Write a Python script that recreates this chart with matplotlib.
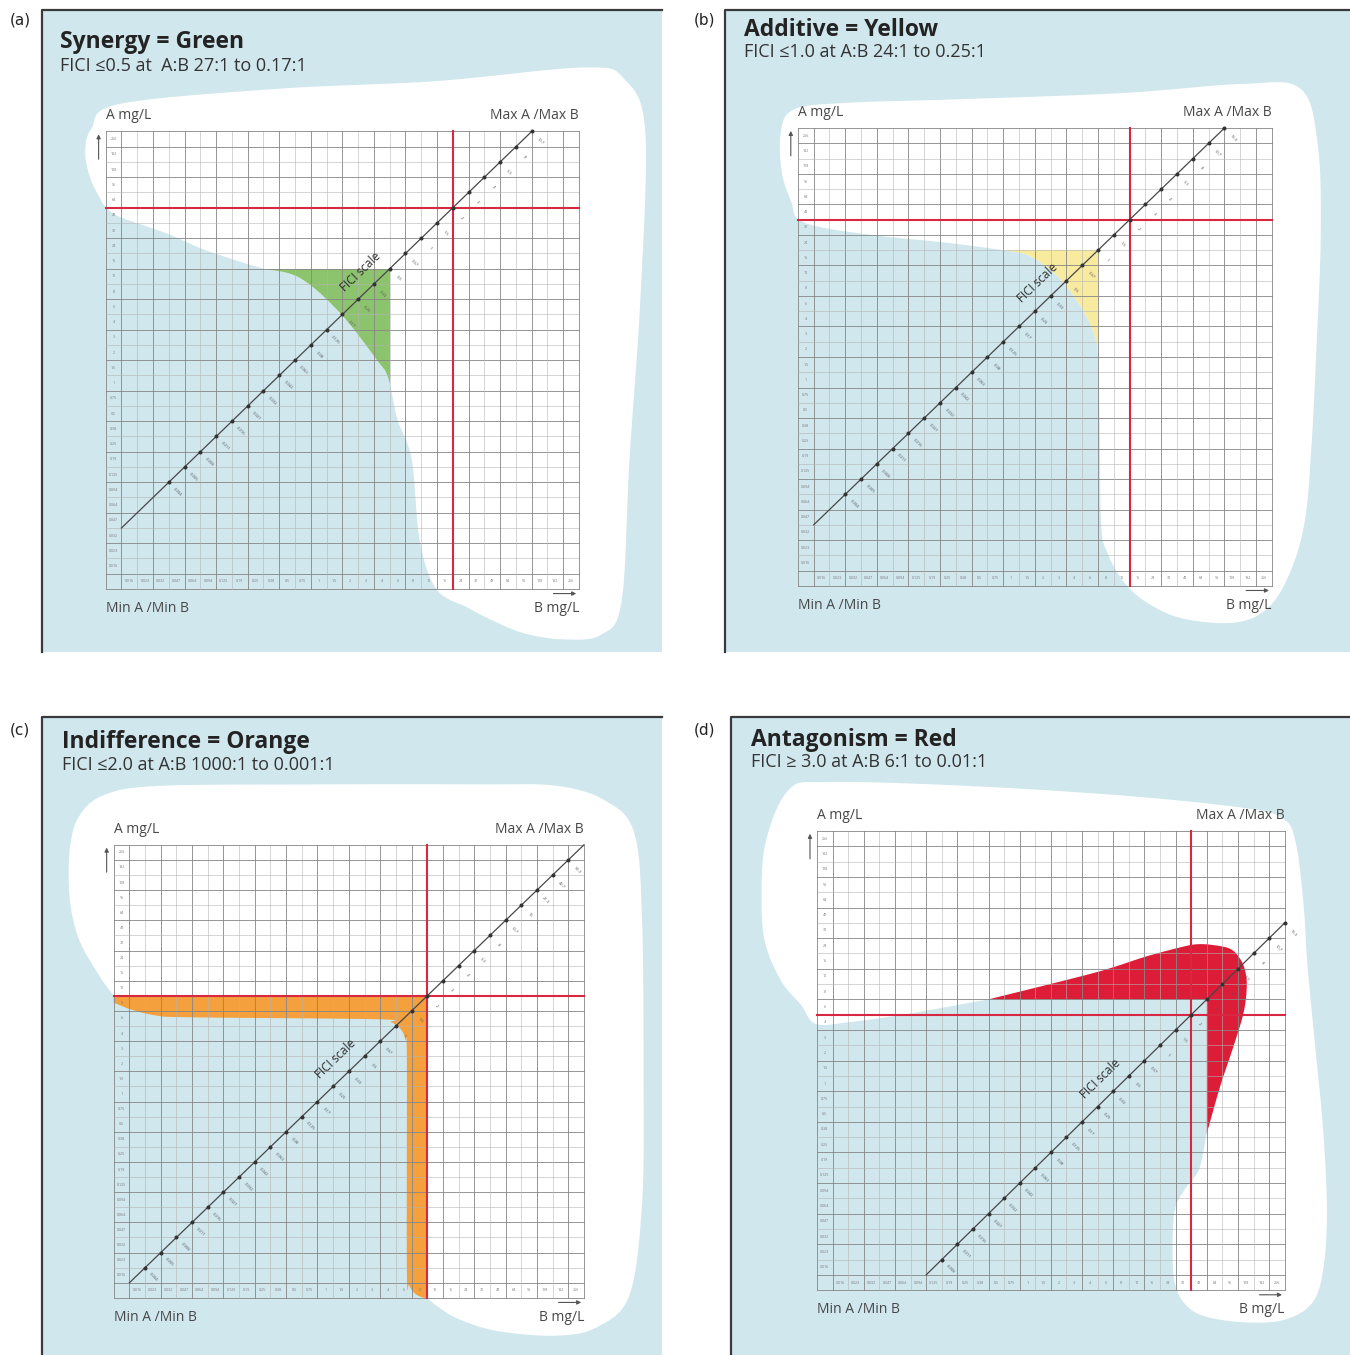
import numpy as np
import matplotlib.pyplot as plt
from matplotlib.patches import Polygon, Rectangle

plt.rcParams['font.family'] = ['Open Sans', 'DejaVu Sans']

W, H = 1350, 1355

# concentration steps (mg/L) used on both axes
conc_labels = ["0.016", "0.023", "0.032", "0.047", "0.064", "0.094", "0.125",
               "0.19", "0.25", "0.38", "0.5", "0.75", "1", "1.5", "2", "3",
               "4", "6", "8", "12", "16", "24", "32", "48", "64", "96", "128",
               "192", "256"]

# FICI values along the diagonal, lowest first
fici_low = ["0.004", "0.005", "0.008", "0.011", "0.016", "0.021", "0.032",
            "0.042", "0.063", "0.08", "0.125", "0.17", "0.25", "0.33", "0.5",
            "0.67", "1", "1.5", "2"]
fici_a = fici_low + ["3", "4", "5.3", "8", "10.7"]
fici_b = fici_low + ["3", "4", "5.3", "8", "10.7", "13.3"]
fici_c = fici_low + ["3", "4", "5.3", "8", "10.7", "16", "21.3", "42.7", "53.3"]
fici_d = fici_low[2:] + ["3", "4", "5.3", "8", "10.7", "13.3"]

# MIC cross-hair (cell boundaries: B, A) and diagonal offset (A = B + k)
mic_a, mic_b, mic_c, mic_d = (21, 24), (20, 23), (19, 19), (23, 17)
diag_k = {"a": 3, "b": 3, "c": 0, "d": -6}
diag_x = {"a": (0, 26), "b": (0, 26), "c": (0, 29), "d": (6, 29)}
first_marker = {"a": 3, "b": 2, "c": 1, "d": 7}

titles = {
    "a": ("Synergy = Green", "FICI \u22640.5 at  A:B 27:1 to 0.17:1"),
    "b": ("Additive = Yellow", "FICI \u22641.0 at A:B 24:1 to 0.25:1"),
    "c": ("Indifference = Orange", "FICI \u22642.0 at A:B 1000:1 to 0.001:1"),
    "d": ("Antagonism = Red", "FICI \u2265 3.0 at A:B 6:1 to 0.01:1"),
}

# outline of the white area (grid units); a doubled point marks a sharp corner
blob_a = [(-1.0, 24.05), (-0.1, 23.4), (2.9, 22.3), (5.0, 21.35), (7.1, 20.6),
          (8.85, 20.05), (11.3, 19.4), (13.85, 17.1), (16.2, 14.0),
          (16.9, 12.85), (17.5, 10.1), (18.4, 7.5), (18.9, 2.2), (19.95, -1.0),
          (21.9, -2.2), (23.5, -3.05), (25.5, -3.9), (28.0, -4.3),
          (30.4, -4.0), (31.7, -1.8), (32.2, 7.5), (32.9, 18.2), (33.2, 29.0),
          (31.9, 32.4), (29.4, 33.2), (19.9, 32.3), (9.9, 31.8),
          (-0.15, 30.8), (-1.9, 29.2), (-2.3, 27.7), (-2.0, 26.0),
          (-1.4, 24.7)]
blob_b = [(-1.0, 23.05), (0.7, 22.45), (4.5, 21.9), (8.3, 21.5), (12.0, 21.0),
          (13.5, 20.7), (14.75, 19.9), (15.8, 18.9), (16.65, 17.7),
          (17.4, 16.4), (17.8, 15.3), (18.0, 14.0), (18.1, 9.8), (18.2, 3.0),
          (18.6, 1.15), (19.6, -0.7), (21.1, -2.1), (23.4, -3.15),
          (26.7, -3.4), (28.8, -2.4), (30.2, 0.0), (31.1, 3.3), (31.5, 8.0),
          (31.8, 14.0), (32.1, 22.0), (31.9, 28.0), (30.8, 31.6),
          (27.2, 31.9), (19.6, 31.3), (9.5, 30.9), (2.0, 30.65),
          (-1.3, 30.2), (-2.1, 28.6), (-2.0, 26.0), (-1.4, 24.1)]
blob_c = [(-1.0, 19.0), (-1.0, 19.0), (19.0, 19.0), (19.0, 19.0),
          (19.0, -1.0), (19.0, -1.0), (19.7, -1.6), (21.0, -2.4),
          (23.5, -3.2), (27.3, -3.5), (29.9, -2.9), (31.9, -0.8),
          (32.7, 5.2), (32.8, 13.3), (32.7, 24.1), (32.2, 29.8),
          (30.4, 31.9), (27.3, 32.9), (22.3, 33.0), (12.1, 33.0),
          (1.9, 32.9), (-1.6, 32.3), (-3.2, 30.9), (-3.8, 28.7),
          (-3.8, 25.4), (-3.2, 22.7), (-1.9, 20.3)]
blob_d = [(10.0, 18.0), (10.0, 18.0), (24.0, 18.0), (24.0, 18.0),
          (24.0, 9.25), (24.0, 9.25), (23.5, 6.9), (22.6, 5.6),
          (21.95, 4.25), (21.8, 1.6), (21.95, -0.55), (22.6, -1.9),
          (23.85, -2.7), (26.4, -3.1), (28.9, -2.95), (30.7, -1.9),
          (31.45, 0.25), (31.7, 4.2), (31.45, 9.6), (30.95, 14.9),
          (30.45, 20.25), (30.2, 24.25), (29.7, 28.25), (28.9, 29.8),
          (26.4, 30.5), (18.8, 31.3), (8.6, 31.95), (-0.25, 32.2),
          (-2.8, 31.7), (-4.3, 28.25), (-4.55, 24.25), (-4.3, 21.6),
          (-3.3, 19.2), (-2.0, 17.6), (-1.1, 16.4), (1.0, 16.5),
          (4.8, 17.05)]

# interaction zones (grid units)
green_box = (5, 12, 17, 20)      # x0, y0, x1 (FICI 0.5 column), y1
yellow_box = (10, 12, 18, 21)    # corner at FICI 1
orange_band = [(-1.0, 19.0), (-1.0, 19.0), (19.0, 19.0), (19.0, 19.0),
               (19.0, -1.0), (19.0, -1.0), (18.7, -0.97), (18.2, -0.7),
               (17.85, -0.15), (17.7, 0.85), (17.7, 14.75), (17.6, 16.1),
               (17.3, 16.8), (16.7, 17.25), (15.8, 17.45), (3.9, 17.58),
               (1.7, 17.7), (0.1, 18.1), (-1.0, 18.55), (-1.0, 18.55)]
red_wedge = [(10.0, 18.0), (10.0, 18.0), (24.0, 18.0), (24.0, 18.0),
             (24.0, 9.25), (24.0, 9.25), (24.85, 12.3), (25.7, 14.9),
             (26.35, 17.1), (26.56, 18.8), (26.45, 19.9), (26.1, 20.7),
             (25.5, 21.3), (24.4, 21.55), (23.35, 21.6), (22.3, 21.4),
             (20.1, 20.8), (18.0, 20.1), (15.9, 19.5)]

# pixel layout: panel rectangle and grid rectangle (x0, y0, x1, y1)
layout = {
    "a": dict(rect=(42, 10, 662, 652), grid=(105.7, 131.5, 579, 589),
              title=(60, 47.5, 71), tag=(10, 20)),
    "b": dict(rect=(725, 10, 1350, 652), grid=(797.9, 128.1, 1271.8, 585.9),
              title=(744, 35.5, 57), tag=(694, 20)),
    "c": dict(rect=(42, 717, 662, 1355), grid=(113.7, 844.8, 584, 1297.9),
              title=(62, 748.5, 770), tag=(10, 730)),
    "d": dict(rect=(731, 717, 1350, 1355), grid=(817, 831, 1284.8, 1290.2),
              title=(751, 745.5, 767), tag=(694, 730)),
}

BG = "#d0e7ee"
GRID_MINOR = "#b4b4b4"
GRID_MAJOR = "#858585"
RED_LINE = "#d62840"


def smooth_closed(pts, n=14):
    # closed Hermite spline; doubled points become corners
    pts = [tuple(p) for p in pts]
    P, corner = [], []
    for i, p in enumerate(pts):
        if P and p == P[-1]:
            corner[-1] = True
            continue
        P.append(p)
        corner.append(False)
    if P[0] == P[-1]:
        P.pop()
        corner[0] = corner[0] or corner.pop()
    P = np.asarray(P, float)
    m = len(P)
    t = np.linspace(0, 1, n, endpoint=False)[:, None]
    h00 = 2 * t ** 3 - 3 * t ** 2 + 1
    h10 = t ** 3 - 2 * t ** 2 + t
    h01 = -2 * t ** 3 + 3 * t ** 2
    h11 = t ** 3 - t ** 2
    out = []
    for i in range(m):
        j = (i + 1) % m
        p1, p2 = P[i], P[j]
        m1 = (p2 - p1) if corner[i] else (p2 - P[i - 1]) / 2
        m2 = (p2 - p1) if corner[j] else (P[(j + 1) % m] - p1) / 2
        out.append(h00 * p1 + h10 * m1 + h01 * p2 + h11 * m2)
    return np.vstack(out)


def panel_axes(fig, key):
    px0, py0, px1, py1 = layout[key]["rect"]
    gx0, gy0, gx1, gy1 = layout[key]["grid"]
    cw = (gx1 - gx0) / 30
    ch = (gy1 - gy0) / 30
    ax = fig.add_axes([px0 / W, 1 - py1 / H, (px1 - px0) / W, (py1 - py0) / H])
    ax.set_xlim(-1 - (gx0 - px0) / cw, -1 + (px1 - gx0) / cw)
    ax.set_ylim(-1 - (py1 - gy1) / ch, -1 + (gy1 - py0) / ch)
    ax.set_facecolor(BG)
    ax.set_xticks([])
    ax.set_yticks([])
    for s in ax.spines.values():
        s.set_visible(False)
    # dark frame on the left and top edge only
    ax.plot([0, 0, 1], [0, 1, 1], transform=ax.transAxes, color="#3a3a3a",
            lw=1.6, clip_on=False, zorder=10)
    ax.cw, ax.ch = cw, ch
    return ax


def draw_grid(ax):
    for v in range(-1, 30):
        major = (v % 2 == 0) or v in (-1, 29)
        c = GRID_MAJOR if major else GRID_MINOR
        lw = 0.6 if major else 0.4
        ax.plot([v, v], [-1, 29], color=c, lw=lw, zorder=3)
        ax.plot([-1, 29], [v, v], color=c, lw=lw, zorder=3)
    for i, lab in enumerate(conc_labels):
        ax.text(i + 0.5, -0.5, lab, fontsize=2.6, color="#7a7a7a",
                ha="center", va="center", zorder=6)
        ax.text(-0.5, i + 0.5, lab, fontsize=2.6, color="#7a7a7a",
                ha="center", va="center", zorder=6)
    tc = "#474747"
    ax.text(-1, 29.8, "A mg/L", fontsize=10, color=tc, ha="left", va="baseline")
    ax.text(29, 29.8, "Max A /Max B", fontsize=10, color=tc, ha="right",
            va="baseline")
    ax.text(-1, -2.5, "Min A /Min B", fontsize=10, color=tc, ha="left",
            va="baseline")
    ax.text(29, -2.5, "B mg/L", fontsize=10, color=tc, ha="right",
            va="baseline")
    arrow = dict(arrowstyle="-|>", color="#555555", lw=0.8, mutation_scale=6)
    ax.annotate("", xy=(-1.45, 29.0), xytext=(-1.45, 27.0), arrowprops=arrow)
    ax.annotate("", xy=(29.0, -1.3), xytext=(27.2, -1.3), arrowprops=arrow)


def draw_scale(ax, key, labels):
    k = diag_k[key]
    x0, x1 = diag_x[key]
    ax.plot([x0, x1], [x0 + k, x1 + k], color="#474747", lw=0.9, zorder=7)
    xs = np.arange(first_marker[key], first_marker[key] + len(labels))
    ax.plot(xs, xs + k, "o", ms=1.9, color="#333333", zorder=8)
    for x, lab in zip(xs, labels):
        ax.text(x + 0.55, x + k - 0.65, lab, fontsize=3.0, color="#555555",
                rotation=-45, ha="center", va="center", zorder=8)
    xm = xs[labels.index("0.33")]
    ang = np.degrees(np.arctan2(ax.ch, ax.cw))
    ax.text(xm - 0.82, xm + k + 0.82, "FICI scale", fontsize=8.5,
            color="#2e2e2e", rotation=ang, ha="center", va="center", zorder=8)


def draw_mic(ax, mic):
    bx, ay = mic
    ax.plot([bx, bx], [-1, 29], color=RED_LINE, lw=1.5, zorder=5)
    ax.plot([-1, 29], [ay, ay], color=RED_LINE, lw=1.5, zorder=5)


fig = plt.figure(figsize=(W / 100, H / 100), dpi=100)
fig.patch.set_facecolor("white")

blobs = {"a": blob_a, "b": blob_b, "c": blob_c, "d": blob_d}
mics = {"a": mic_a, "b": mic_b, "c": mic_c, "d": mic_d}
ficis = {"a": fici_a, "b": fici_b, "c": fici_c, "d": fici_d}

for key in "abcd":
    ax = panel_axes(fig, key)
    blob = Polygon(smooth_closed(blobs[key]), closed=True, fc="white",
                   ec="none", zorder=1)
    ax.add_patch(blob)

    if key == "a":
        x0, y0, x1, y1 = green_box
        zone = Rectangle((x0, y0), x1 - x0, y1 - y0, fc="#8cc36d", ec="none",
                         zorder=2)
        ax.add_patch(zone)
        zone.set_clip_path(blob)
    elif key == "b":
        x0, y0, x1, y1 = yellow_box
        zone = Rectangle((x0, y0), x1 - x0, y1 - y0, fc="#f8ea9e", ec="none",
                         zorder=2)
        ax.add_patch(zone)
        zone.set_clip_path(blob)
    elif key == "c":
        ax.add_patch(Polygon(smooth_closed(orange_band), closed=True,
                             fc="#f4a03c", ec="none", zorder=2))
    else:
        ax.add_patch(Polygon(smooth_closed(red_wedge), closed=True,
                             fc="#dd1c37", ec="none", zorder=2))

    draw_grid(ax)
    draw_mic(ax, mics[key])
    draw_scale(ax, key, ficis[key])

    tx, tb, sb = layout[key]["title"]
    title, sub = titles[key]
    fig.text(tx / W, 1 - tb / H, title, fontsize=16.5, fontweight="bold",
             color="#232323", ha="left", va="baseline")
    fig.text(tx / W, 1 - sb / H, sub, fontsize=13, color="#333333",
             ha="left", va="baseline")
    gx, gy = layout[key]["tag"]
    fig.text(gx / W, 1 - gy / H, "(%s)" % key, fontsize=11, color="#222222",
             ha="left", va="center", family="DejaVu Sans")

fig.savefig("out.png", dpi=100)
